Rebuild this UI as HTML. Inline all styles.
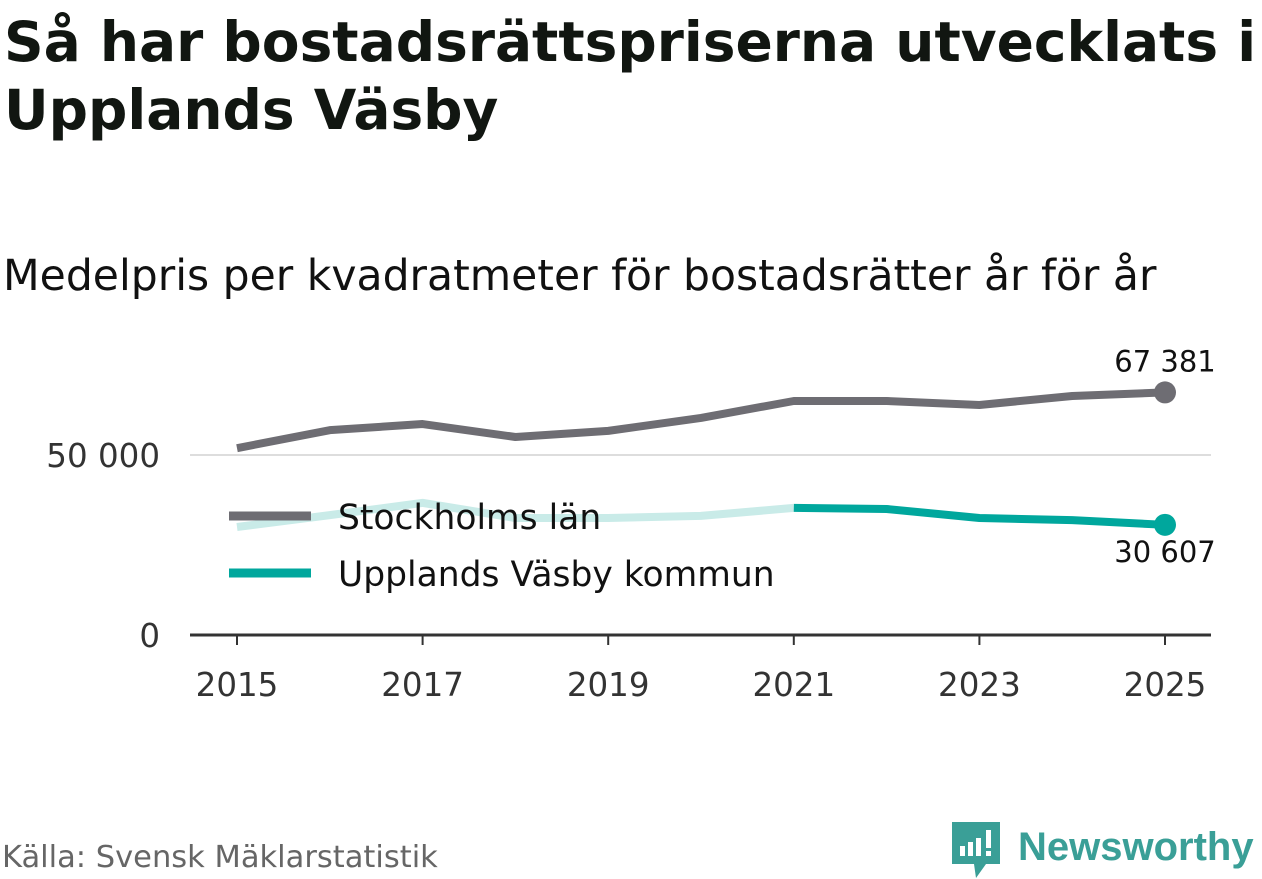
<!DOCTYPE html>
<html><head><meta charset="utf-8"><style>
body{margin:0;width:1262px;height:879px;background:#fff;font-family:"DejaVu Sans",sans-serif;overflow:hidden;position:relative;color:#111}
h1{position:absolute;left:4px;top:8px;margin:0;font-size:55px;line-height:68px;font-weight:bold;color:#111611;white-space:nowrap}
.sub{position:absolute;left:3px;top:252px;font-size:42.5px;color:#111;white-space:nowrap}
.src{position:absolute;left:2px;top:840px;font-size:30.5px;color:#666;white-space:nowrap}
svg{position:absolute;left:0;top:0;font-family:"DejaVu Sans",sans-serif}
</style></head><body>
<h1>Så har bostadsrättspriserna utvecklats i<br>Upplands Väsby</h1>
<div class="sub">Medelpris per kvadratmeter för bostadsrätter år för år</div>
<div class="src">Källa: Svensk Mäklarstatistik</div>
<svg width="1262" height="879" id="chart">
<g id="grid"></g><g id="lines"></g><g id="labels"></g>
<g>
<line x1="229" y1="516" x2="311" y2="516" stroke="#6e6d73" stroke-width="9"/>
<text x="338" y="529" font-size="34.5" fill="#111">Stockholms län</text>
<line x1="229" y1="573" x2="311" y2="573" stroke="#00a79d" stroke-width="9"/>
<text x="338" y="586" font-size="34.5" fill="#111">Upplands Väsby kommun</text>
</g>
<g>
<path d="M952 822 h48 v42 h-14 l-10 14 l-2 -14 h-22 z" fill="#3a9f97"/>
<rect x="960" y="846" width="5" height="10" fill="#fff"/><rect x="968" y="842" width="5" height="14" fill="#fff"/><rect x="976" y="838" width="5" height="18" fill="#fff"/><rect x="986" y="830" width="5" height="18" fill="#fff"/><rect x="986" y="851" width="5" height="5" fill="#fff"/>
<text x="1018" y="860" font-size="40" font-weight="bold" fill="#3a9f97" font-family="Liberation Sans, sans-serif">Newsworthy</text>
</g>
</svg>
<script>
const years=[2015,2016,2017,2018,2019,2020,2021,2022,2023,2024,2025];
const stockholm=[51900,56900,58600,55000,56700,60300,65000,65000,63900,66400,67381];
const vasby=[30000,33300,36700,32500,32500,33100,35300,35000,32500,31900,30607];
const yTicks=[0,50000];
const yTickLabels=["0","50 000"];
const xTicks=[2015,2017,2019,2021,2023,2025];
const highlightFrom=2021;
const NS="http://www.w3.org/2000/svg";
const X=v=>237+(v-2015)*92.8;
const Y=v=>635-v*0.0036;
function mk(tag,attrs,parent){const e=document.createElementNS(NS,tag);for(const k in attrs)e.setAttribute(k,attrs[k]);parent.appendChild(e);return e;}
const grid=document.getElementById('grid'),lines=document.getElementById('lines'),labels=document.getElementById('labels');
yTicks.forEach((t,i)=>{
 const l=mk('line',{x1:190,x2:1211,y1:Y(t),y2:Y(t),stroke:t===0?'#333':'#ddd','stroke-width':t===0?3:2},grid);
 
 
 const tx=mk('text',{x:160,y:Y(t)+12,'font-size':32.5,fill:'#333','text-anchor':'end'},grid);
 tx.textContent=yTickLabels[i];
 
 
});
xTicks.forEach(t=>{
 const l=mk('line',{x1:X(t),x2:X(t),y1:635,y2:645,stroke:'#333','stroke-width':2},grid);
 
 
 const tx=mk('text',{x:X(t),y:696,'font-size':32.5,fill:'#333','text-anchor':'middle'},grid);
 tx.textContent=t;
 
 
});
const pts=(arr,f)=>years.map((y,i)=>[y,arr[i]]).filter(p=>f(p[0])).map(p=>X(p[0])+','+Y(p[1])).join(' ');
const lv=mk('polyline',{points:pts(vasby,y=>y<=highlightFrom),fill:'none',stroke:'#c9ebe8','stroke-width':8,'stroke-linejoin':'round'},lines);


const dv=mk('polyline',{points:pts(vasby,y=>y>=highlightFrom),fill:'none',stroke:'#00a79d','stroke-width':8,'stroke-linejoin':'round'},lines);


const ls=mk('polyline',{points:pts(stockholm,()=>true),fill:'none',stroke:'#6e6d73','stroke-width':8,'stroke-linejoin':'round'},lines);


const n=years.length-1;
const c1=mk('circle',{cx:X(years[n]),cy:Y(stockholm[n]),r:11,fill:'#6e6d73'},lines);


const c2=mk('circle',{cx:X(years[n]),cy:Y(vasby[n]),r:11,fill:'#00a79d'},lines);


const fmt=v=>String(v).replace(/\B(?=(\d{3})+(?!\d))/g,' ');
const t1=mk('text',{x:X(years[n]),y:Y(stockholm[n])-21,'font-size':29,fill:'#111','text-anchor':'middle'},labels);
t1.textContent=fmt(stockholm[n]);


const t2=mk('text',{x:X(years[n]),y:Y(vasby[n])+37,'font-size':29,fill:'#111','text-anchor':'middle'},labels);
t2.textContent=fmt(vasby[n]);


</script>
</body></html>
